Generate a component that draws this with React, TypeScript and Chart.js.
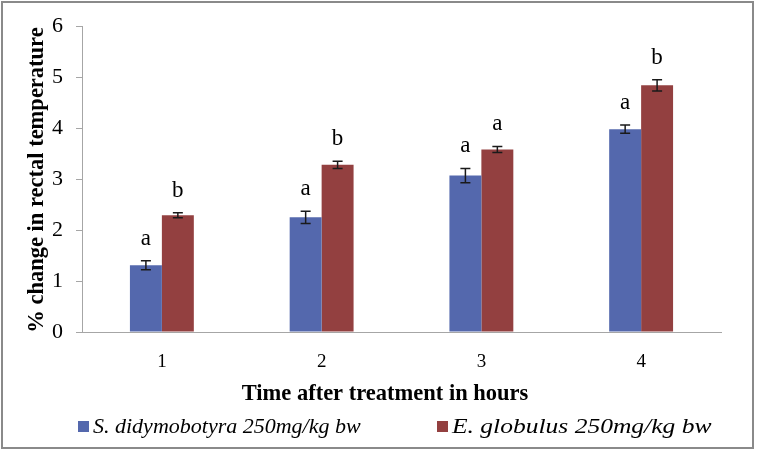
import React, { useEffect, useRef } from "react";
import { Chart, registerables } from "chart.js";

Chart.register(...registerables);

const categories = ["1", "2", "3", "4"];
const seriesNames = ["S. didymobotyra 250mg/kg bw", "E. globulus 250mg/kg bw"];
const sDidyValues = [1.31, 2.25, 3.07, 3.98];
const sDidyErrors = [0.09, 0.12, 0.14, 0.08];
const eGlobValues = [2.29, 3.28, 3.58, 4.84];
const eGlobErrors = [0.05, 0.07, 0.06, 0.11];
const sDidyLetters = ["a", "a", "a", "a"];
const eGlobLetters = ["b", "b", "a", "b"];
const yTicks = [0, 1, 2, 3, 4, 5, 6];
const xTitle = "Time after treatment in hours";
const yTitle = "% change in rectal temperature";

const BLUE = "#5468ad";
const RED = "#934040";
const AXIS = "#a6a6a6";
const SERIF = "'Liberation Serif', 'Times New Roman', serif";

const errors = [sDidyErrors, eGlobErrors];
const letters = [sDidyLetters, eGlobLetters];
const colors = [BLUE, RED];

const overlayPlugin = {
  id: "overlay",
  afterDatasetsDraw(chart: any) {
    const ctx = chart.ctx;
    const yScale = chart.scales.y;
    ctx.save();
    chart.data.datasets.forEach((ds: any, di: number) => {
      const meta = chart.getDatasetMeta(di);
      meta.data.forEach((bar: any, i: number) => {
        const v = ds.data[i];
        const e = errors[di][i];
        const yTop = yScale.getPixelForValue(v + e);
        const yBot = yScale.getPixelForValue(v - e);
        const x = bar.x;
        ctx.strokeStyle = "#1a1a1a";
        ctx.lineWidth = 1.5;
        ctx.beginPath();
        ctx.moveTo(x, yTop);
        ctx.lineTo(x, yBot);
        ctx.moveTo(x - 5, yTop);
        ctx.lineTo(x + 5, yTop);
        ctx.moveTo(x - 5, yBot);
        ctx.lineTo(x + 5, yBot);
        ctx.stroke();
        ctx.fillStyle = "#000";
        ctx.font = `23px ${SERIF}`;
        ctx.textAlign = "center";
        ctx.textBaseline = "alphabetic";
        ctx.fillText(letters[di][i], x, yTop - 16);
      });
    });
    ctx.restore();
  },
  afterDraw(chart: any) {
    const ctx = chart.ctx;
    ctx.save();
    // y title
    ctx.fillStyle = "#000";
    ctx.font = `bold 22.5px ${SERIF}`;
    ctx.textAlign = "center";
    ctx.textBaseline = "middle";
    ctx.translate(37, 180);
    ctx.rotate(-Math.PI / 2);
    ctx.fillText(yTitle, 0, 0);
    ctx.restore();

    ctx.save();
    ctx.fillStyle = "#000";
    ctx.font = `bold 22.5px ${SERIF}`;
    ctx.textAlign = "center";
    ctx.textBaseline = "alphabetic";
    ctx.fillText(xTitle, 385, 400);

    // legend
    const legendX = [78, 437];
    const stretch = [1, 1.16];
    ctx.font = `italic 22px ${SERIF}`;
    ctx.textAlign = "left";
    seriesNames.forEach((name, i) => {
      ctx.fillStyle = colors[i];
      ctx.fillRect(legendX[i], 421, 11, 11);
      ctx.fillStyle = "#000";
      ctx.save();
      ctx.translate(legendX[i] + 15, 433);
      ctx.scale(stretch[i], 1);
      ctx.fillText(name, 0, 0);
      ctx.restore();
    });

    // outer border
    ctx.strokeStyle = "#8a8a8a";
    ctx.lineWidth = 2;
    ctx.strokeRect(2, 2, 751, 446);
    ctx.restore();
  },
};

export default function App() {
  const canvasRef = useRef<HTMLCanvasElement | null>(null);

  useEffect(() => {
    if (!canvasRef.current) return;
    const chart = new Chart(canvasRef.current, {
      type: "bar",
      data: {
        labels: categories,
        datasets: [
          {
            label: seriesNames[0],
            data: sDidyValues,
            backgroundColor: BLUE,
            borderWidth: 0,
          },
          {
            label: seriesNames[1],
            data: eGlobValues,
            backgroundColor: RED,
            borderWidth: 0,
          },
        ],
      },
      options: {
        animation: false,
        responsive: false,
        devicePixelRatio: 1,
        categoryPercentage: 0.4,
        barPercentage: 1.0,
        layout: { padding: { top: 21, right: 36, left: 0, bottom: 0 } },
        plugins: {
          legend: { display: false },
          tooltip: { enabled: false },
        },
        scales: {
          x: {
            grid: { display: false },
            border: { display: true, color: AXIS, width: 1 },
            ticks: {
              color: "#000",
              font: { family: SERIF, size: 19 },
              padding: 11,
            },
            afterFit(scale: any) {
              scale.height = 119;
            },
          },
          y: {
            min: 0,
            max: 6,
            afterBuildTicks(scale: any) {
              scale.ticks = yTicks.map((v) => ({ value: v }));
            },
            grid: {
              drawOnChartArea: false,
              drawTicks: true,
              tickLength: 6,
              color: AXIS,
            },
            border: { display: true, color: AXIS, width: 1 },
            ticks: {
              color: "#000",
              font: { family: SERIF, size: 22 },
              padding: 13,
            },
            afterFit(scale: any) {
              scale.width = 82;
            },
          },
        },
      },
      plugins: [overlayPlugin],
    });
    return () => chart.destroy();
  }, []);

  return (
    <div style={{ position: "fixed", left: 0, top: 0, width: 757, height: 451, background: "#fff" }}>
      <canvas ref={canvasRef} width={757} height={451} style={{ display: "block" }} />
    </div>
  );
}
